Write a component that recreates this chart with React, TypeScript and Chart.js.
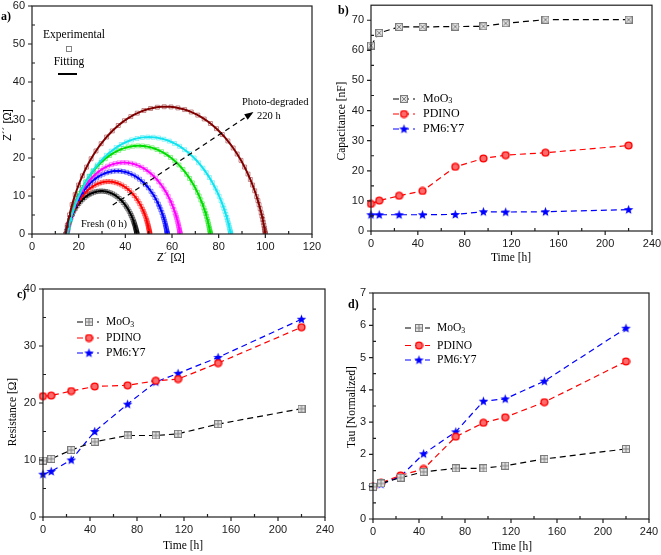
import React, { useEffect, useRef } from 'react';
import { Chart, registerables } from 'chart.js';

Chart.register(...registerables);

const W = 661;
const H = 555;
const SERIF = '"Liberation Serif", "Times New Roman", serif';
const SANS = '"Liberation Sans", Arial, sans-serif';

// ---------------- Panel a: Nyquist arcs (fitted R-CPE parameters) ----------------
const arcLabels = ['0 h', '7 h', '24 h', '44 h', '72 h', '96 h', '220 h'];
const arcStart = [14.5, 15, 15, 15, 15, 15, 14.5]; // Z' at high-frequency intercept
const arcEnd = [45, 50.5, 58, 63.5, 76.5, 85.2, 100]; // Z' at low-frequency intercept
const arcPeak = [11.3, 13.8, 16.6, 18.8, 23.2, 25.5, 33.5]; // max Z''
const arcColors = ['#000000', '#ff0000', '#0000ff', '#ff00ff', '#00dd00', '#10e4f0', '#800000'];
// positions of the measured points along each arc (0 = left intercept, 1 = right intercept)
const expFractions = [
  0, 0.02, 0.045, 0.07, 0.095, 0.12, 0.145, 0.17, 0.195, 0.22, 0.245, 0.27, 0.295, 0.32, 0.345,
  0.37, 0.395, 0.42, 0.445, 0.47, 0.495, 0.52, 0.545, 0.57, 0.595, 0.62, 0.645, 0.67, 0.695, 0.72,
  0.745, 0.77, 0.79, 0.81, 0.83, 0.85, 0.865, 0.88, 0.895, 0.91, 0.92, 0.93, 0.94, 0.95, 0.958,
  0.966, 0.973, 0.98, 0.986, 0.991, 0.995, 0.998, 1,
];

// ---------------- Panels b, c, d ----------------
const timeH = [0, 7, 24, 44, 72, 96, 115, 149, 220];
const seriesNames = ['MoO3', 'PDINO', 'PM6:Y7'];
const capMoO3 = [61.6, 65.8, 67.8, 67.8, 67.9, 68.0, 69.0, 70.2, 70.2];
const capPDINO = [9.0, 10.1, 11.7, 13.3, 21.3, 24.1, 25.2, 26.0, 28.4];
const capPM6Y7 = [5.4, 5.4, 5.4, 5.4, 5.5, 6.4, 6.3, 6.4, 7.1];
const resMoO3 = [9.9, 10.2, 11.75, 13.2, 14.3, 14.3, 14.6, 16.3, 19.0];
const resPDINO = [21.2, 21.3, 22.1, 22.9, 23.1, 23.9, 24.2, 27.0, 33.3];
const resPM6Y7 = [7.5, 8.0, 10.0, 15.0, 19.8, 23.7, 25.2, 28.0, 34.7];
const tauMoO3 = [1.0, 1.1, 1.28, 1.46, 1.57, 1.57, 1.65, 1.86, 2.17];
const tauPDINO = [1.0, 1.12, 1.35, 1.55, 2.55, 2.98, 3.15, 3.62, 4.88];
const tauPM6Y7 = [1.0, 1.08, 1.32, 2.02, 2.7, 3.65, 3.72, 4.27, 5.91];

const YW = 30;
const XH = 20;

function arcPoints(x1: number, x2: number, h: number, fracs: number[]) {
  const a = (x2 - x1) / 2;
  const cx = (x1 + x2) / 2;
  const r = (a * a + h * h) / (2 * h);
  const cy = h - r;
  const thR = Math.asin(Math.max(-1, Math.min(1, -cy / r)));
  const thL = Math.PI - thR;
  return fracs.map((f) => {
    const th = thL + (thR - thL) * f;
    return { x: cx + r * Math.cos(th), y: Math.max(0, cy + r * Math.sin(th)) };
  });
}

function hexA(hex: string, a: number) {
  const n = parseInt(hex.slice(1), 16);
  return `rgba(${(n >> 16) & 255},${(n >> 8) & 255},${n & 255},${a})`;
}

function squareMarker(kind: 'plus' | 'x') {
  const s = 8;
  const c = document.createElement('canvas');
  c.width = s;
  c.height = s;
  const g = c.getContext('2d')!;
  g.fillStyle = '#e2e2e2';
  g.fillRect(0.5, 0.5, s - 1, s - 1);
  g.strokeStyle = '#7a7a7a';
  g.lineWidth = 1;
  g.strokeRect(0.5, 0.5, s - 1, s - 1);
  g.beginPath();
  if (kind === 'plus') {
    g.moveTo(4, 1);
    g.lineTo(4, 7);
    g.moveTo(1, 4);
    g.lineTo(7, 4);
  } else {
    g.moveTo(1.5, 1.5);
    g.lineTo(6.5, 6.5);
    g.moveTo(6.5, 1.5);
    g.lineTo(1.5, 6.5);
  }
  g.lineWidth = 0.9;
  g.stroke();
  return c;
}

function circleMarker() {
  const s = 9;
  const c = document.createElement('canvas');
  c.width = s;
  c.height = s;
  const g = c.getContext('2d')!;
  g.beginPath();
  g.arc(4.5, 4.5, 3.4, 0, Math.PI * 2);
  g.fillStyle = '#ff6a6a';
  g.fill();
  g.lineWidth = 1.4;
  g.strokeStyle = '#ff0000';
  g.stroke();
  return c;
}

function starMarker() {
  const s = 11;
  const c = document.createElement('canvas');
  c.width = s;
  c.height = s;
  const g = c.getContext('2d')!;
  g.translate(5.5, 5.8);
  g.beginPath();
  for (let k = 0; k < 10; k++) {
    const r = k % 2 === 0 ? 5 : 2.1;
    const ang = -Math.PI / 2 + (k * Math.PI) / 5;
    if (k === 0) g.moveTo(r * Math.cos(ang), r * Math.sin(ang));
    else g.lineTo(r * Math.cos(ang), r * Math.sin(ang));
  }
  g.closePath();
  g.fillStyle = '#0000ff';
  g.fill();
  return c;
}

function text(
  ctx: CanvasRenderingContext2D,
  s: string,
  x: number,
  y: number,
  font: string,
  align: CanvasTextAlign = 'center',
  rotate = false,
) {
  ctx.save();
  ctx.font = font;
  ctx.fillStyle = '#000';
  ctx.textAlign = align;
  ctx.textBaseline = 'middle';
  if (rotate) {
    ctx.translate(x, y);
    ctx.rotate(-Math.PI / 2);
    ctx.fillText(s, 0, 0);
  } else {
    ctx.fillText(s, x, y);
  }
  ctx.restore();
}

function drawFrame(chart: any, xStep: number, yStep: number) {
  const ctx: CanvasRenderingContext2D = chart.ctx;
  const { left, right, top, bottom } = chart.chartArea;
  const xs = chart.scales.x;
  const ys = chart.scales.y;
  ctx.save();
  ctx.strokeStyle = '#1e1e1e';
  ctx.lineWidth = 1.2;
  ctx.strokeRect(left, top, right - left, bottom - top);
  ctx.beginPath();
  const eps = 1e-6;
  for (let i = 0; ; i++) {
    const v = xs.min + (i * xStep) / 2;
    if (v > xs.max + eps) break;
    const major = i % 2 === 0;
    const px = xs.getPixelForValue(v);
    if (major) {
      ctx.moveTo(px, bottom);
      ctx.lineTo(px, bottom + 4);
    } else if (v < xs.max - eps) {
      ctx.moveTo(px, bottom);
      ctx.lineTo(px, bottom - 3);
    }
  }
  for (let i = 0; ; i++) {
    const v = ys.min + (i * yStep) / 2;
    if (v > ys.max + eps) break;
    const major = i % 2 === 0;
    const py = ys.getPixelForValue(v);
    if (major) {
      ctx.moveTo(left, py);
      ctx.lineTo(left - 4, py);
    } else if (v < ys.max - eps) {
      ctx.moveTo(left, py);
      ctx.lineTo(left + 3, py);
    }
  }
  ctx.stroke();
  ctx.restore();
}

function scaleOpts(min: number, max: number, step: number, isX: boolean, tickMax?: number) {
  return {
    type: 'linear' as const,
    min,
    max,
    ticks: {
      stepSize: step,
      autoSkip: false,
      maxRotation: 0,
      padding: isX ? 6 : 7,
      color: '#1a1a1a',
      font: { family: SANS, size: 11 },
      includeBounds: false,
    },
    grid: { display: false, drawTicks: false },
    border: { display: false },
    afterBuildTicks: (s: any) => {
      if (tickMax !== undefined) s.ticks = s.ticks.filter((t: any) => t.value <= tickMax + 1e-9);
    },
    afterFit: (s: any) => {
      if (isX) {
        s.height = XH;
        s.paddingLeft = 0;
        s.paddingRight = 0;
      } else {
        s.width = YW;
        s.paddingTop = 0;
        s.paddingBottom = 0;
      }
    },
  };
}

function layoutPad(l: number, t: number, r: number, b: number) {
  return { left: l - YW, top: t, right: W - r, bottom: H - b - XH };
}

function buildA(canvas: HTMLCanvasElement) {
  const datasets: any[] = [];
  const fitFractions: number[] = [];
  for (let i = 0; i <= 120; i++) fitFractions.push(i / 120);
  for (let i = arcStart.length - 1; i >= 0; i--) {
    datasets.push({
      label: arcLabels[i] + ' fit',
      data: arcPoints(arcStart[i], arcEnd[i], arcPeak[i], fitFractions),
      showLine: true,
      pointRadius: 0,
      borderWidth: 2,
      borderColor: arcColors[i],
      backgroundColor: arcColors[i],
      tension: 0,
    });
  }
  for (let i = arcStart.length - 1; i >= 0; i--) {
    datasets.push({
      label: arcLabels[i] + ' exp',
      data: arcPoints(arcStart[i], arcEnd[i], arcPeak[i], expFractions),
      showLine: false,
      pointStyle: 'rect',
      pointRadius: 2.8,
      borderWidth: 0.9,
      borderColor: hexA(arcColors[i], 0.5),
      backgroundColor: 'rgba(0,0,0,0)',
    });
  }
  const decor = {
    id: 'decorA',
    afterDraw(chart: any) {
      const ctx: CanvasRenderingContext2D = chart.ctx;
      drawFrame(chart, 20, 10);
      const xs = chart.scales.x;
      const ys = chart.scales.y;
      // arrow
      const x0 = xs.getPixelForValue(34.6), y0 = ys.getPixelForValue(7.6);
      const x1 = xs.getPixelForValue(94.2), y1 = ys.getPixelForValue(31.8);
      ctx.save();
      ctx.strokeStyle = '#000';
      ctx.lineWidth = 1.2;
      ctx.setLineDash([5, 4]);
      ctx.beginPath();
      ctx.moveTo(x0, y0);
      ctx.lineTo(x1, y1);
      ctx.stroke();
      ctx.setLineDash([]);
      const ang = Math.atan2(y1 - y0, x1 - x0);
      ctx.beginPath();
      ctx.moveTo(x1 + 2 * Math.cos(ang), y1 + 2 * Math.sin(ang));
      ctx.lineTo(x1 - 7 * Math.cos(ang) + 3.2 * Math.sin(ang), y1 - 7 * Math.sin(ang) - 3.2 * Math.cos(ang));
      ctx.lineTo(x1 - 7 * Math.cos(ang) - 3.2 * Math.sin(ang), y1 - 7 * Math.sin(ang) + 3.2 * Math.cos(ang));
      ctx.closePath();
      ctx.fillStyle = '#000';
      ctx.fill();
      ctx.restore();
      text(ctx, 'Fresh (0 h)', 104, 224, `10.5px ${SERIF}`);
      text(ctx, 'Photo-degraded', 242, 102, `10.5px ${SERIF}`, 'left');
      text(ctx, '220 h', 257, 116, `10.5px ${SERIF}`, 'left');
      // legend
      text(ctx, 'Experimental', 74, 35, `11.5px ${SERIF}`);
      ctx.save();
      ctx.strokeStyle = '#777';
      ctx.lineWidth = 0.9;
      ctx.strokeRect(66.5, 46.5, 5, 5);
      ctx.restore();
      text(ctx, 'Fitting', 69, 62, `11.5px ${SERIF}`);
      ctx.save();
      ctx.strokeStyle = '#000';
      ctx.lineWidth = 2;
      ctx.beginPath();
      ctx.moveTo(58, 74);
      ctx.lineTo(77, 74);
      ctx.stroke();
      ctx.restore();
      text(ctx, 'a)', 1, 17, `bold 12px ${SERIF}`, 'left');
      text(ctx, 'Z\u00b4\u00b4 [\u03a9]', 8, 125, `11px ${SANS}`, 'center', true);
      text(ctx, 'Z\u00b4 [\u03a9]', 171, 258, `11px ${SANS}`);
    },
  };
  return new Chart(canvas, {
    type: 'scatter',
    data: { datasets },
    options: {
      animation: false,
      responsive: false,
      devicePixelRatio: 1,
      layout: { padding: layoutPad(32, 6, 312, 234) },
      plugins: { legend: { display: false }, tooltip: { enabled: false } },
      scales: { x: scaleOpts(0, 120, 20, true) as any, y: scaleOpts(0, 60, 10, false) as any },
    },
    plugins: [decor],
  });
}

interface SeriesPanel {
  id: string;
  area: [number, number, number, number];
  yMax: number;
  yStep: number;
  yTickMax: number;
  values: number[][];
  markers: HTMLCanvasElement[];
  label: [string, number, number];
  yTitle: [string, number, number];
  xTitle: [string, number, number];
  legend: { x1: number; x2: number; xm: number; xt: number; rows: number[]; font: number; sub: number };
}

const lineColors = ['#000000', '#ff0000', '#0000ff'];

function buildSeries(canvas: HTMLCanvasElement, p: SeriesPanel) {
  const datasets = p.values.map((vals, i) => ({
    label: seriesNames[i],
    data: timeH.map((t, k) => ({ x: t, y: vals[k] })),
    showLine: true,
    borderColor: lineColors[i],
    backgroundColor: lineColors[i],
    borderWidth: 1.2,
    borderDash: [6, 4],
    pointStyle: p.markers[i] as any,
    pointRadius: 4,
    tension: 0,
    clip: false as any,
  }));
  const decor = {
    id: 'decor' + p.id,
    afterDraw(chart: any) {
      const ctx: CanvasRenderingContext2D = chart.ctx;
      drawFrame(chart, 40, p.yStep);
      text(ctx, p.label[0], p.label[1], p.label[2], `bold 12px ${SERIF}`, 'left');
      text(ctx, p.yTitle[0], p.yTitle[1], p.yTitle[2], `11.5px ${SERIF}`, 'center', true);
      text(ctx, p.xTitle[0], p.xTitle[1], p.xTitle[2], `11.5px ${SERIF}`);
      const L = p.legend;
      L.rows.forEach((ry, i) => {
        ctx.save();
        ctx.strokeStyle = lineColors[i];
        ctx.lineWidth = 1.2;
        ctx.setLineDash([6, 4]);
        ctx.beginPath();
        ctx.moveTo(L.x1, ry);
        ctx.lineTo(L.x2, ry);
        ctx.stroke();
        ctx.restore();
        const m = p.markers[i];
        ctx.drawImage(m, L.xm - m.width / 2, ry - m.height / 2);
        const f = `${L.font}px ${SERIF}`;
        if (i === 0) {
          ctx.save();
          ctx.font = f;
          const w = ctx.measureText('MoO').width;
          ctx.restore();
          text(ctx, 'MoO', L.xt, ry, f, 'left');
          text(ctx, '3', L.xt + w, ry + L.sub, `${L.font * 0.68}px ${SERIF}`, 'left');
        } else {
          text(ctx, seriesNames[i], L.xt, ry, f, 'left');
        }
      });
    },
  };
  const [l, t, r, b] = p.area;
  return new Chart(canvas, {
    type: 'scatter',
    data: { datasets },
    options: {
      animation: false,
      responsive: false,
      devicePixelRatio: 1,
      layout: { padding: layoutPad(l, t, r, b) },
      plugins: { legend: { display: false }, tooltip: { enabled: false } },
      scales: {
        x: scaleOpts(0, 240, 40, true) as any,
        y: scaleOpts(0, p.yMax, p.yStep, false, p.yTickMax) as any,
      },
    },
    plugins: [decor],
  });
}

export default function App() {
  const ra = useRef<HTMLCanvasElement>(null);
  const rb = useRef<HTMLCanvasElement>(null);
  const rc = useRef<HTMLCanvasElement>(null);
  const rd = useRef<HTMLCanvasElement>(null);

  useEffect(() => {
    const sqX = squareMarker('x');
    const sqP = squareMarker('plus');
    const circ = circleMarker();
    const star = starMarker();
    const charts = [
      buildA(ra.current!),
      buildSeries(rb.current!, {
        id: 'B',
        area: [371, 1, 652, 231],
        yMax: 75,
        yStep: 10,
        yTickMax: 70,
        values: [capMoO3, capPDINO, capPM6Y7],
        markers: [sqX, circ, star],
        label: ['b)', 338, 11],
        yTitle: ['Capacitance [nF]', 342, 121],
        xTitle: ['Time [h]', 511, 258],
        legend: { x1: 393, x2: 415, xm: 404, xt: 423, rows: [99, 114, 129], font: 12, sub: 1.5 },
      }),
      buildSeries(rc.current!, {
        id: 'C',
        area: [43, 289, 325, 517],
        yMax: 40,
        yStep: 10,
        yTickMax: 40,
        values: [resMoO3, resPDINO, resPM6Y7],
        markers: [sqP, circ, star],
        label: ['c)', 17, 295],
        yTitle: ['Resistance [\u03a9]', 13, 412],
        xTitle: ['Time [h]', 183, 546],
        legend: { x1: 77, x2: 99, xm: 89, xt: 106, rows: [322, 338, 353], font: 11.5, sub: 3 },
      }),
      buildSeries(rd.current!, {
        id: 'D',
        area: [373, 293, 649, 519],
        yMax: 7,
        yStep: 1,
        yTickMax: 7,
        values: [tauMoO3, tauPDINO, tauPM6Y7],
        markers: [sqP, circ, star],
        label: ['d)', 348, 305],
        yTitle: ['Tau [Normalized]', 352, 407],
        xTitle: ['Time [h]', 512, 547],
        legend: { x1: 405, x2: 430, xm: 419, xt: 437, rows: [328, 345.5, 360], font: 11.5, sub: 3 },
      }),
    ];
    return () => charts.forEach((c) => c.destroy());
  }, []);

  const cs: React.CSSProperties = { position: 'absolute', left: 0, top: 0, width: W, height: H };
  return (
    <div style={{ position: 'fixed', left: 0, top: 0, width: W, height: H, background: '#fff' }}>
      <canvas ref={ra} width={W} height={H} style={cs} />
      <canvas ref={rb} width={W} height={H} style={cs} />
      <canvas ref={rc} width={W} height={H} style={cs} />
      <canvas ref={rd} width={W} height={H} style={cs} />
    </div>
  );
}
